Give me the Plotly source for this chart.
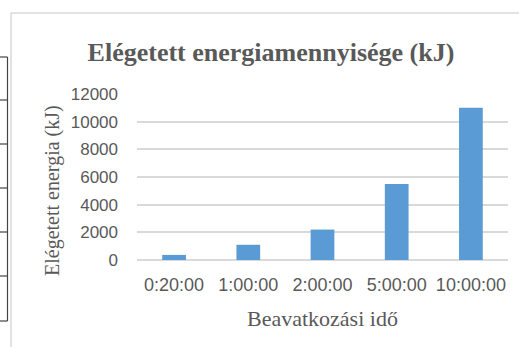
import plotly.graph_objects as go

# Burned energy per intervention duration
durations = ["0:20:00", "1:00:00", "2:00:00", "5:00:00", "10:00:00"]
energy_kj = [367, 1100, 2200, 5500, 11000]
y_ticks = [0, 2000, 4000, 6000, 8000, 10000, 12000]
y_tick_labels = ["0", "2000", "4000", "6000", "8000", "10000", "12000"]

W, H = 519, 347
L, R, T, B = 137, 11, 94, 87
PW, PH = W - L - R, H - T - B

TEXT = "#595959"
GRID = "#d9d9d9"
BAR = "#5B9BD5"
SANS = "Liberation Sans, Arial, sans-serif"
SERIF = "Liberation Serif, Times New Roman, serif"


def px(x):
    return (x - L) / PW


def py(y):
    return (H - B - y) / PH


fig = go.Figure(
    go.Bar(
        x=durations,
        y=energy_kj,
        marker=dict(color=BAR, line=dict(width=0)),
        hoverinfo="x+y",
    )
)

shapes = []
# chart frame (top and left edges visible)
shapes.append(dict(type="line", xref="paper", yref="paper",
                   x0=px(11), x1=px(W + 5), y0=py(13), y1=py(13),
                   line=dict(color=GRID, width=1.5)))
shapes.append(dict(type="line", xref="paper", yref="paper",
                   x0=px(11), x1=px(11), y0=py(13), y1=py(H + 5),
                   line=dict(color=GRID, width=1.5)))
# neighbouring table edge on the left
shapes.append(dict(type="line", xref="paper", yref="paper",
                   x0=px(7.5), x1=px(7.5), y0=py(57), y1=py(321),
                   line=dict(color="#444444", width=1.2)))
for ry in [57, 100, 144, 188, 232, 276, 321]:
    shapes.append(dict(type="line", xref="paper", yref="paper",
                       x0=px(-2), x1=px(7.5), y0=py(ry), y1=py(ry),
                       line=dict(color="#444444", width=1.2)))

annotations = [
    dict(text="Elégetett energia (kJ)", textangle=-90,
         xref="paper", yref="paper", x=px(52), y=py(191),
         xanchor="center", yanchor="middle", showarrow=False,
         font=dict(family=SERIF, size=20, color=TEXT)),
    dict(text="Beavatkozási idő",
         xref="paper", yref="paper", x=px(322), y=py(318),
         xanchor="center", yanchor="middle", showarrow=False,
         font=dict(family=SERIF, size=22, color=TEXT)),
]

fig.update_layout(
    width=W, height=H,
    margin=dict(l=L, r=R, t=T, b=B),
    paper_bgcolor="white", plot_bgcolor="white",
    showlegend=False,
    bargap=0.68,
    title=dict(text="<b>Elégetett energiamennyisége (kJ)</b>",
               xref="container", yref="container",
               x=271 / W, y=1 - 52 / H, xanchor="center", yanchor="middle",
               font=dict(family=SERIF, size=26, color=TEXT)),
    shapes=shapes,
    annotations=annotations,
)

fig.update_xaxes(
    showgrid=False, zeroline=False, showline=False,
    ticks="", ticklabelstandoff=12,
    tickfont=dict(family=SANS, size=18, color=TEXT),
)
fig.update_yaxes(
    range=[0, 12000], tickvals=y_ticks, ticktext=y_tick_labels,
    showgrid=True, gridcolor=GRID, gridwidth=1.5,
    zeroline=True, zerolinecolor=GRID, zerolinewidth=1.5,
    showline=False, ticks="", ticklabelstandoff=18,
    tickfont=dict(family=SANS, size=17, color=TEXT),
)

fig.write_html("out.html")
